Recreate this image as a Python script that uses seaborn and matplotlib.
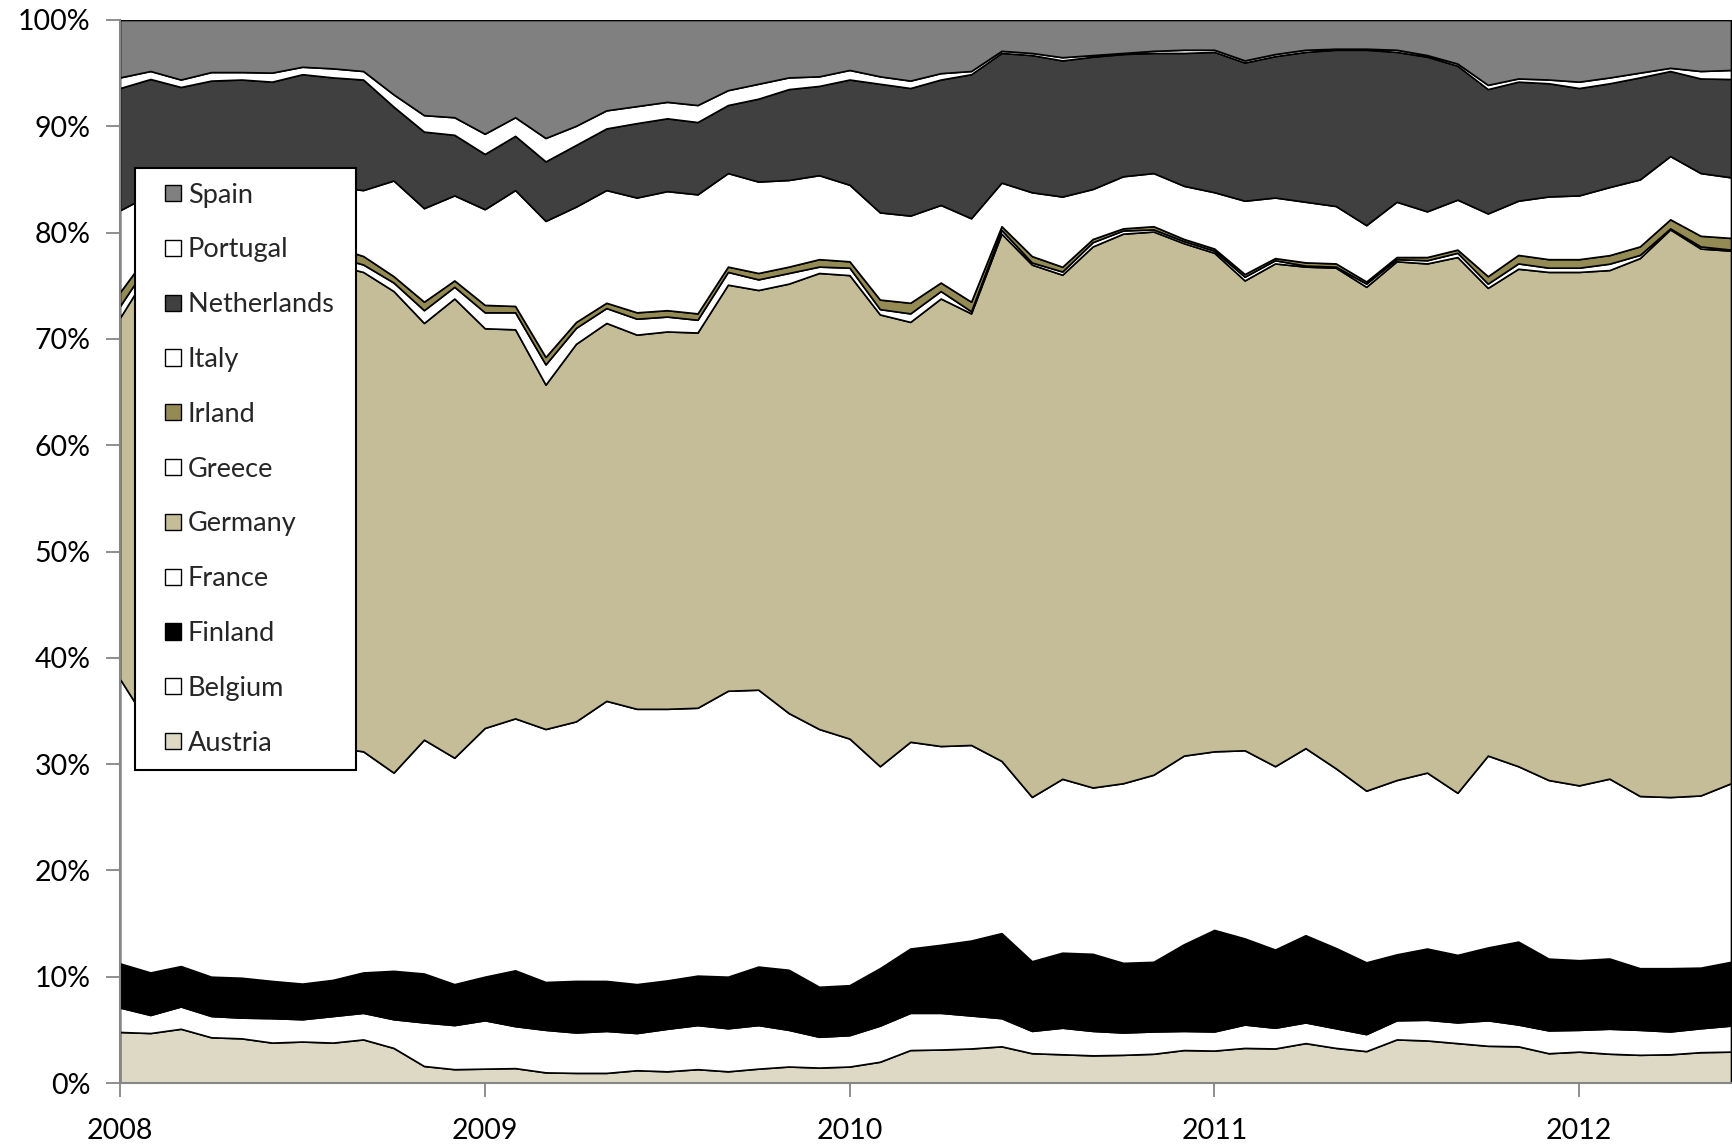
#!/usr/bin/env python3
"""
Euro area shares by country, monthly 2008 - mid 2012 (100% stacked area)
"""

import numpy as np
import pandas as pd
import matplotlib
matplotlib.use("Agg")
import matplotlib.pyplot as plt
import seaborn as sns
from matplotlib.patches import Patch, Rectangle
from matplotlib.legend_handler import HandlerPatch
from matplotlib.ticker import PercentFormatter

# Monthly observations, Jan 2008 - Jun 2012 (values in % of total)
months = pd.date_range("2008-01-01", periods=54, freq="MS")
year_ticks = [2008, 2009, 2010, 2011, 2012]

austria = [4.8, 4.7, 5.1, 4.3, 4.2, 3.8, 3.9, 3.8, 4.1, 3.3,
           1.6, 1.3, 1.35, 1.4, 1.0, 0.95, 0.95, 1.2, 1.1, 1.3,
           1.1, 1.35, 1.55, 1.45, 1.55, 2.0, 3.1, 3.15, 3.25, 3.45,
           2.8, 2.7, 2.6, 2.65, 2.75, 3.1, 3.05, 3.3, 3.25, 3.75,
           3.3, 3.0, 4.1, 4.0, 3.75, 3.5, 3.45, 2.8, 2.95, 2.75,
           2.65, 2.7, 2.9, 2.95]
belgium = [2.3, 1.7, 2.1, 2.0, 1.95, 2.3, 2.1, 2.5, 2.5, 2.7,
           4.1, 4.15, 4.55, 3.95, 4.0, 3.8, 3.95, 3.5, 4.0, 4.15,
           4.05, 4.1, 3.45, 2.9, 2.95, 3.4, 3.5, 3.45, 3.1, 2.65,
           2.1, 2.5, 2.3, 2.1, 2.1, 1.8, 1.8, 2.2, 1.95, 1.95,
           1.85, 1.6, 1.8, 1.95, 1.95, 2.4, 2.05, 2.15, 2.05, 2.35,
           2.35, 2.15, 2.25, 2.45]
finland = [4.15, 4.0, 3.8, 3.7, 3.75, 3.5, 3.35, 3.4, 3.8, 4.55,
           4.6, 3.85, 4.1, 5.25, 4.5, 4.85, 4.7, 4.6, 4.55, 4.65,
           4.85, 5.5, 5.65, 4.7, 4.7, 5.4, 6.05, 6.4, 7.05, 8.0,
           6.55, 7.05, 7.25, 6.55, 6.55, 8.15, 9.55, 8.1, 7.35, 8.2,
           7.55, 6.75, 6.2, 6.7, 6.35, 6.85, 7.8, 6.75, 6.55, 6.6,
           5.8, 5.95, 5.7, 6.0]
france = [26.75, 23.1, 22.0, 22.8, 22.6, 22.6, 22.65, 21.9, 20.8, 18.65,
          22.0, 21.3, 23.4, 23.7, 23.8, 24.4, 26.35, 25.9, 25.55, 25.2,
          26.9, 26.05, 24.15, 24.25, 23.2, 19.0, 19.45, 18.7, 18.4, 16.2,
          15.45, 16.35, 15.65, 16.9, 17.6, 17.75, 16.8, 17.7, 17.25, 17.6,
          16.9, 16.15, 16.4, 16.55, 15.25, 18.05, 16.5, 16.8, 16.45, 16.9,
          16.2, 16.1, 16.2, 16.8]
germany = [34.0, 43.1, 43.2, 44.0, 44.8, 45.3, 45.3, 45.4, 45.1, 45.3,
           39.2, 43.2, 37.6, 36.6, 32.4, 35.5, 35.55, 35.2, 35.5, 35.3,
           38.2, 37.6, 40.4, 42.9, 43.6, 42.5, 39.5, 42.1, 40.6, 49.6,
           50.05, 47.4, 50.9, 51.7, 51.1, 48.2, 46.9, 44.2, 47.3, 45.3,
           47.1, 47.4, 48.8, 47.9, 50.4, 44.0, 46.8, 47.8, 48.3, 47.8,
           50.6, 53.4, 51.45, 50.1]
greece = [1.1, 0.8, 0.8, 0.8, 0.8, 0.8, 0.8, 0.8, 0.7, 0.8,
          1.2, 1.1, 1.5, 1.6, 1.9, 1.5, 1.4, 1.5, 1.4, 1.2,
          1.2, 1.0, 1.0, 0.6, 0.7, 0.5, 0.8, 0.7, 0.2, 0.35,
          0.2, 0.3, 0.4, 0.3, 0.2, 0.2, 0.2, 0.35, 0.3, 0.1,
          0.1, 0.3, 0.2, 0.3, 0.4, 0.4, 0.5, 0.4, 0.4, 0.6,
          0.3, 0.1, 0.2, 0.1]
irland = [1.3, 0.9, 0.9, 0.9, 0.9, 0.9, 0.9, 0.9, 0.8, 0.6,
          0.8, 0.6, 0.7, 0.6, 0.7, 0.55, 0.5, 0.6, 0.6, 0.6,
          0.5, 0.6, 0.6, 0.7, 0.6, 0.9, 1.0, 0.8, 0.9, 0.35,
          0.6, 0.45, 0.3, 0.2, 0.3, 0.2, 0.2, 0.25, 0.2, 0.3,
          0.3, 0.2, 0.2, 0.3, 0.3, 0.7, 0.8, 0.8, 0.8, 0.8,
          0.8, 0.85, 1.0, 1.1]
italy = [7.7, 5.3, 5.9, 5.5, 5.1, 5.0, 5.3, 5.6, 6.2, 9.0,
         8.8, 8.0, 9.0, 10.9, 12.8, 10.85, 10.6, 10.8, 11.2, 11.2,
         8.8, 8.6, 8.15, 7.9, 7.2, 8.2, 8.2, 7.3, 7.85, 4.1,
         6.0, 6.6, 4.7, 4.9, 5.0, 5.0, 5.3, 6.9, 5.7, 5.7,
         5.4, 5.3, 5.2, 4.3, 4.7, 5.9, 5.1, 5.9, 6.0, 6.4,
         6.3, 5.95, 5.9, 5.7]
netherlands = [11.5, 10.85, 9.9, 10.3, 10.3, 10.0, 10.6, 10.3, 10.4, 6.95,
               7.2, 5.7, 5.2, 5.1, 5.6, 5.8, 5.8, 7.0, 6.85, 6.8,
               6.4, 7.8, 8.55, 8.4, 9.9, 12.1, 12.0, 11.8, 13.55, 12.2,
               12.9, 12.8, 12.45, 11.5, 11.3, 12.5, 13.2, 13.0, 13.3, 14.1,
               14.7, 16.5, 14.1, 14.55, 12.6, 11.7, 11.2, 10.65, 10.1, 9.75,
               9.6, 8.0, 8.9, 9.25]
portugal = [1.0, 0.75, 0.7, 0.8, 0.7, 0.85, 0.7, 0.85, 0.8, 1.15,
            1.55, 1.65, 1.9, 1.75, 2.2, 1.8, 1.7, 1.6, 1.55, 1.6,
            1.4, 1.4, 1.1, 0.9, 0.9, 0.7, 0.7, 0.6, 0.3, 0.2,
            0.2, 0.3, 0.15, 0.1, 0.2, 0.3, 0.2, 0.2, 0.2, 0.2,
            0.1, 0.1, 0.2, 0.15, 0.2, 0.4, 0.3, 0.35, 0.6, 0.55,
            0.45, 0.3, 0.7, 0.85]
spain = [5.4, 4.8, 5.6, 4.9, 4.9, 4.95, 4.4, 4.55, 4.8, 7.0,
         8.95, 9.15, 10.7, 9.15, 11.1, 9.95, 8.5, 8.1, 7.7, 8.0,
         6.6, 6.0, 5.4, 5.3, 4.7, 5.3, 5.7, 5.0, 4.8, 2.9,
         3.1, 3.5, 3.3, 3.1, 2.9, 2.8, 2.8, 3.8, 3.2, 2.8,
         2.7, 2.7, 2.8, 3.3, 4.1, 6.1, 5.5, 5.6, 5.8, 5.4,
         4.95, 4.5, 4.8, 4.7]

countries = ["Austria", "Belgium", "Finland", "France", "Germany", "Greece",
             "Irland", "Italy", "Netherlands", "Portugal", "Spain"]
palette = {
    "Austria": "#DDD9C4", "Belgium": "#FFFFFF", "Finland": "#000000",
    "France": "#FFFFFF", "Germany": "#C4BD97", "Greece": "#FFFFFF",
    "Irland": "#948A54", "Italy": "#FFFFFF", "Netherlands": "#404040",
    "Portugal": "#FFFFFF", "Spain": "#808080",
}

df = pd.DataFrame({
    "Austria": austria, "Belgium": belgium, "Finland": finland,
    "France": france, "Germany": germany, "Greece": greece,
    "Irland": irland, "Italy": italy, "Netherlands": netherlands,
    "Portugal": portugal, "Spain": spain,
}, index=months)

# 100% stacked -> normalise each month
shares = df.div(df.sum(axis=1), axis=0) * 100
x = np.arange(len(shares))

sns.set_style("ticks")
plt.rcParams["font.family"] = ["Lato", "DejaVu Sans"]

W, H = 1733, 1144
fig = plt.figure(figsize=(W / 100, H / 100), dpi=100)
ax = fig.add_axes([120 / W, 1 - 1083 / H, 1611 / W, 1063 / H])

ax.stackplot(x, shares[countries].T.values,
             colors=[palette[c] for c in countries],
             edgecolor="black", linewidth=1.2)

ax.set_xlim(0, len(x) - 1)
ax.set_ylim(0, 100)
ax.set_yticks(np.arange(0, 101, 10))
ax.yaxis.set_major_formatter(PercentFormatter(decimals=0))

tick_pos = [list(months.year).index(y) for y in year_ticks]
ax.set_xticks(tick_pos)
ax.set_xticklabels([str(y) for y in year_ticks])

axis_grey = "#868686"
for side in ["top", "right"]:
    ax.spines[side].set_visible(False)
for side in ["left", "bottom"]:
    ax.spines[side].set_color(axis_grey)
    ax.spines[side].set_linewidth(1.5)
    ax.spines[side].set_zorder(5)

ax.tick_params(axis="both", direction="out", length=10, width=1.3,
               color=axis_grey, labelsize=20.5, labelcolor="black")
ax.tick_params(axis="y", pad=11)
ax.tick_params(axis="x", pad=15)
ax.grid(False)


# small square marker sitting at the right end of a wider handle box
def square_patch(legend, orig_handle, xdescent, ydescent, width, height, fontsize):
    s = 0.6 * fontsize
    return Rectangle((-xdescent + width - s, -ydescent + (height - s) / 2), s, s)


leg_font = 19.5
handles = [Patch(facecolor=palette[c], edgecolor="black", linewidth=1.0)
           for c in countries[::-1]]
labels = [c + " " if c == "Netherlands" else c for c in countries[::-1]]
leg = ax.legend(handles, labels, loc="upper left",
                bbox_to_anchor=(0.0093, 0.861), frameon=True, fancybox=False,
                edgecolor="black", framealpha=1, fontsize=leg_font,
                handlelength=1.15, handleheight=0.7, handletextpad=0.25,
                labelspacing=1.1, borderpad=0.55, borderaxespad=0,
                handler_map={Patch: HandlerPatch(patch_func=square_patch)})
leg.get_frame().set_linewidth(1.5)

fig.savefig("out.png", dpi=100)
plt.close(fig)
